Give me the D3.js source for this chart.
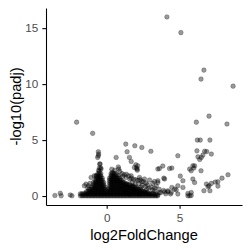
<!DOCTYPE html>
<html>
<head>
<meta charset="utf-8">
<script src="https://cdn.jsdelivr.net/npm/d3@7"></script>
<style>
html,body{margin:0;padding:0;background:#fff;}
svg{display:block;}
</style>
</head>
<body>
<svg id="chart" width="250" height="250"></svg>
<script>
// Individually visible genes (log2FoldChange, -log10(padj))
const log2FC = [
  4.13,5.09,6.67,6.47,8.67,
  -2.06,-0.96,1.31,1.93,2.41,3.03,
  7.02,8.25,6.15,6.22,6.42,7.08,
  6.19,6.72,6.86,7.18,6.6,6.49,6.26,6.38,6.03,6.47,
  8.32,7.91,7.63,7.45,7.18,7.02,6.95,7.63,6.67,7.08,
  4.88,3.62,3.85,4.47,5.69,5.98,5.91,3.92,5.05,2.94,3.28,3.51,3.16,4.47,4.77,3.97,4.2,4.38,5.57,5.8,5.69,
  1.9,2.09,2.13,3.51,4.31,5.8,1.33,1.68,2.25,2.59,3.51,3.97,4.88,5.23,5.91,6.03,6.84,
  1.33,1.56,1.9,2.25,2.59,2.94,3.28,3.62,4.2,4.43,4.66,4.88,5.23,5.57,5.8,
  -0.57,-0.57,0.65,1.4,1.56,1.68,2.0,2.05,2.1,-0.48,-0.39,0.8,0.83,
  0.55,0.9,1.05,1.2,1.35,1.5,1.7,1.85,2.0,2.15,2.4,2.7,0.35,1.1,1.6,2.3,2.5,2.8,3.05,3.3,3.6,3.4,3.7,3.9,4.05,
  1.75,1.95,2.2,2.45,2.65,2.9,3.15,2.35,2.75,
  -1.42,-1.24,-1.14,-1.53,-1.07,-0.85,-0.73,-0.62,-0.55,-0.45,-0.5,-0.55,-0.4,-1.3,
  -3.55,-3.18,-3.12,-2.5,-2.38
];
const negLog10Padj = [
  16.0,14.6,11.25,10.45,9.82,
  6.6,5.6,4.64,4.49,4.34,4.0,
  7.14,6.43,6.6,5.0,5.0,5.0,
  4.04,4.0,3.97,3.75,3.66,3.45,3.5,3.27,2.7,2.26,
  1.9,1.6,1.28,1.25,1.13,0.92,0.83,0.89,0.47,0.47,
  3.6,2.46,2.68,2.5,2.41,2.5,2.7,1.6,1.78,1.43,1.3,1.21,1.13,0.77,0.54,0.38,0.38,0.18,0.23,0.05,0.02,
  2.55,2.41,2.7,2.41,2.46,2.26,1.66,1.81,1.66,1.52,1.37,1.52,0.92,1.37,1.52,1.21,1.07,
  0.32,0.18,0.38,0.18,0.32,0.18,0.47,0.32,0.47,0.32,0.62,0.18,0.77,0.03,0.32,
  3.96,3.6,3.45,3.96,3.45,3.09,2.8,2.5,2.3,2.86,2.41,2.6,2.41,
  2.3,2.2,2.0,1.9,1.95,1.8,1.6,1.5,1.45,1.4,1.3,1.15,2.4,1.75,1.5,1.45,1.3,1.0,0.8,0.7,0.6,0.9,0.3,0.5,0.2,
  1.2,1.05,1.1,0.95,0.85,0.7,0.55,0.8,0.6,
  1.07,0.92,1.13,0.92,1.66,1.81,1.81,3.45,3.75,2.86,2.5,2.3,2.5,0.75,
  0.05,0.25,0.02,0.1,0.02
];

// Densely overplotted genes near zero, read column by column
const coreLog2FC = [-1.8,-1.7,-1.6,-1.5,-1.4,-1.3,-1.2,-1.1,-1.0,-0.9,-0.8,-0.7,-0.6,-0.5,-0.4,-0.3,-0.2,-0.1,0.0,0.1,
  0.2,0.3,0.4,0.5,0.6,0.7,0.8,0.9,1.0,1.1,1.2,1.3,1.4,1.5,1.6,1.7,1.8,1.9,2.0,2.1,2.2,2.3,2.4,2.5,2.6,2.7,2.8,2.9,3.0,3.1,3.2,3.3,3.4,3.5];
const coreNegLog10Padj = [
  [0.02,0.2],[0.03,0.19],[0.02,0.21],[0.04,0.2],
  [0.02,0.2,0.38],[0.03,0.21,0.4],[0.02,0.2,0.41,0.6],[0.03,0.22,0.4,0.58],
  [0.02,0.2,0.4,0.6,0.8],
  [0.02,0.2,0.4,0.6,0.8,1.0,1.2],
  [0.02,0.2,0.4,0.6,0.8,1.0,1.2,1.4],
  [0.02,0.2,0.4,0.6,0.8,1.0,1.2,1.4,1.6,1.8],
  [0.02,0.2,0.4,0.6,0.8,1.0,1.2,1.4,1.6,1.8,2.0],
  [0.02,0.2,0.4,0.6,0.8,1.0,1.2,1.4,1.6,1.8,2.0,2.2],
  [0.02,0.2,0.4,0.6,0.8,1.0,1.2,1.4,1.6,1.8,2.0],
  [0.02,0.2,0.4,0.6,0.8,1.0,1.2,1.4,1.6],
  [0.02,0.2,0.4,0.6,0.8,1.0,1.2],
  [0.02,0.2,0.4,0.6,0.8],
  [0.02,0.2,0.4],
  [0.02,0.2,0.4,0.6],
  [0.02,0.2,0.4,0.6,0.8,1.0,1.2,1.4,1.6],
  [0.02,0.2,0.4,0.6,0.8,1.0,1.2,1.4,1.6,1.8,2.0],
  [0.02,0.2,0.4,0.6,0.8,1.0,1.2,1.4,1.6,1.8,2.0,2.1],
  [0.02,0.2,0.4,0.6,0.8,1.0,1.2,1.4,1.6,1.8,2.0],
  [0.02,0.2,0.4,0.6,0.8,1.0,1.2,1.4,1.6,1.8,2.0],
  [0.02,0.2,0.4,0.6,0.8,1.0,1.2,1.4,1.6,1.9],
  [0.02,0.2,0.4,0.6,0.8,1.0,1.2,1.4,1.6,1.8],
  [0.02,0.2,0.4,0.6,0.8,1.0,1.2,1.4,1.6],
  [0.02,0.2,0.4,0.6,0.8,1.0,1.2,1.4],
  [0.02,0.2,0.4,0.6,0.8,1.0,1.2,1.3],
  [0.02,0.2,0.4,0.6,0.8,1.0,1.2],
  [0.02,0.2,0.4,0.6,0.8,1.0,1.1],
  [0.02,0.2,0.4,0.6,0.8,1.0,1.1],
  [0.02,0.2,0.4,0.6,0.8,1.0],
  [0.02,0.2,0.4,0.6,0.8,1.0],
  [0.02,0.2,0.4,0.6,0.8,0.9],
  [0.02,0.2,0.4,0.6,0.8,0.9],
  [0.02,0.2,0.4,0.6,0.8],
  [0.02,0.2,0.4,0.6,0.8],
  [0.02,0.2,0.4,0.6,0.7],
  [0.02,0.2,0.4,0.6],
  [0.02,0.2,0.4,0.6],
  [0.02,0.2,0.4,0.5],
  [0.02,0.2,0.4],
  [0.02,0.2,0.4],
  [0.02,0.2,0.35],
  [0.02,0.2,0.3],
  [0.02,0.2],
  [0.02,0.2],
  [0.02,0.2],
  [0.02,0.2],[0.02,0.15],[0.02,0.2],[0.02,0.1],[0.02]
];

const xTicks = [0, 5];
const yTicks = [0, 5, 10, 15];
const xTitle = "log2FoldChange";
const yTitle = "-log10(padj)";

const points = [];
log2FC.forEach((v, i) => points.push({x: v, y: negLog10Padj[i]}));
coreLog2FC.forEach((v, i) => coreNegLog10Padj[i].forEach(w => points.push({x: v, y: w})));

const svg = d3.select("#chart");
svg.append("rect").attr("width", 250).attr("height", 250).attr("fill", "#fff");

const mLeft = 46, mRight = 242, mTop = 8, mBottom = 205;

function expand(ext) { const d = (ext[1] - ext[0]) * 0.05; return [ext[0] - d, ext[1] + d]; }
const xScale = d3.scaleLinear().domain(expand(d3.extent(points, d => d.x))).range([mLeft, mRight]);
const yScale = d3.scaleLinear().domain(expand([0, d3.max(points, d => d.y)])).range([mBottom, mTop]);

svg.append("g").selectAll("circle").data(points).join("circle")
  .attr("cx", d => xScale(d.x)).attr("cy", d => yScale(d.y)).attr("r", 2.3)
  .attr("fill", "#000").attr("fill-opacity", 0.4)
  .attr("stroke", "#000").attr("stroke-opacity", 0.4).attr("stroke-width", 0.6);

const font = "'Liberation Sans', Arial, sans-serif";

const gx = svg.append("g").attr("transform", `translate(0,${mBottom})`)
  .call(d3.axisBottom(xScale).tickValues(xTicks).tickSize(3.7).tickSizeOuter(0).tickPadding(5.4).tickFormat(d3.format("d")));
const gy = svg.append("g").attr("transform", `translate(${mLeft},0)`)
  .call(d3.axisLeft(yScale).tickValues(yTicks).tickSize(3.7).tickSizeOuter(0).tickPadding(4).tickFormat(d3.format("d")));
[gx, gy].forEach(g => {
  g.select(".domain").attr("stroke", "#000").attr("stroke-width", 1.07);
  g.selectAll(".tick line").attr("stroke", "#000").attr("stroke-width", 1.07);
  g.selectAll(".tick text").attr("fill", "#4D4D4D").style("font-family", font).style("font-size", "11.7px");
});

svg.append("text").attr("x", (mLeft + mRight) / 2).attr("y", 239.5)
  .attr("text-anchor", "middle").style("font-family", font).style("font-size", "14.67px")
  .attr("fill", "#000").text(xTitle);
svg.append("text").attr("transform", `translate(20.5,${(mTop + mBottom) / 2}) rotate(-90)`)
  .attr("text-anchor", "middle").style("font-family", font).style("font-size", "14.67px")
  .attr("fill", "#000").text(yTitle);
</script>
</body>
</html>
